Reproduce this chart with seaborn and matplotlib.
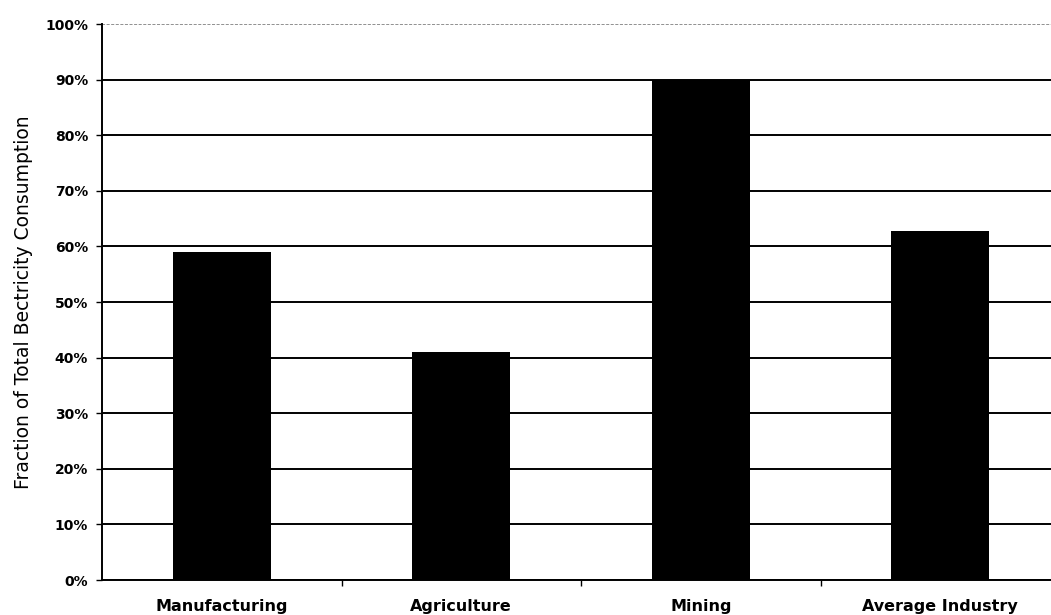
import matplotlib
matplotlib.use("Agg")
import matplotlib.pyplot as plt
from matplotlib.ticker import FixedLocator, FuncFormatter
import seaborn as sns

# Share of total electricity consumption by sector (percent)
categories = ["Manufacturing", "Agriculture", "Mining", "Average Industry"]
shares = [59, 41, 90, 62.7]
y_ticks = [0, 10, 20, 30, 40, 50, 60, 70, 80, 90, 100]

sns.set_style("white")
plt.rcParams["font.family"] = ["DejaVu Sans"]

fig = plt.figure(figsize=(10.51, 6.15), dpi=100)
ax = fig.add_axes([102 / 1051, 35 / 615, 958 / 1051, 556 / 615])

sns.barplot(x=categories, y=shares, color="black", width=0.41,
            saturation=1, edgecolor="black", linewidth=0, ax=ax)

ax.set_xlim(-0.5, 3.5)
ax.set_ylim(0, 100)
ax.set_yticks(y_ticks)
ax.yaxis.set_major_formatter(FuncFormatter(lambda v, _: f"{v:.0f}%"))

# horizontal gridlines behind the bars
ax.set_axisbelow(True)
ax.yaxis.grid(True, color="black", linewidth=1.4)
ax.xaxis.grid(False)
grid_lines = ax.get_ygridlines()
grid_lines[-1].set_color("0.45")
grid_lines[-1].set_linewidth(1.1)
grid_lines[-1].set_linestyle((0, (2, 1)))

for side in ("top", "right"):
    ax.spines[side].set_visible(False)
for side in ("left", "bottom"):
    ax.spines[side].set_color("black")
    ax.spines[side].set_linewidth(1.4)

# category separators as small outward ticks on the x axis
ax.xaxis.set_minor_locator(FixedLocator([0.5, 1.5, 2.5]))
ax.tick_params(axis="x", which="minor", direction="out", length=4,
               width=1, color="black", bottom=True)
ax.tick_params(axis="x", which="major", length=0, pad=14,
               labelsize=11.5, labelcolor="black")
ax.tick_params(axis="y", which="major", direction="out", length=4,
               width=1, color="black", left=True, pad=6,
               labelsize=10, labelcolor="black")
for lbl in ax.get_xticklabels() + ax.get_yticklabels():
    lbl.set_fontweight("bold")

ax.set_xlabel("")
ax.set_ylabel("Fraction of Total Bectricity Consumption", fontsize=13.5,
              color="black", labelpad=9)

fig.savefig("out.png", dpi=100)
